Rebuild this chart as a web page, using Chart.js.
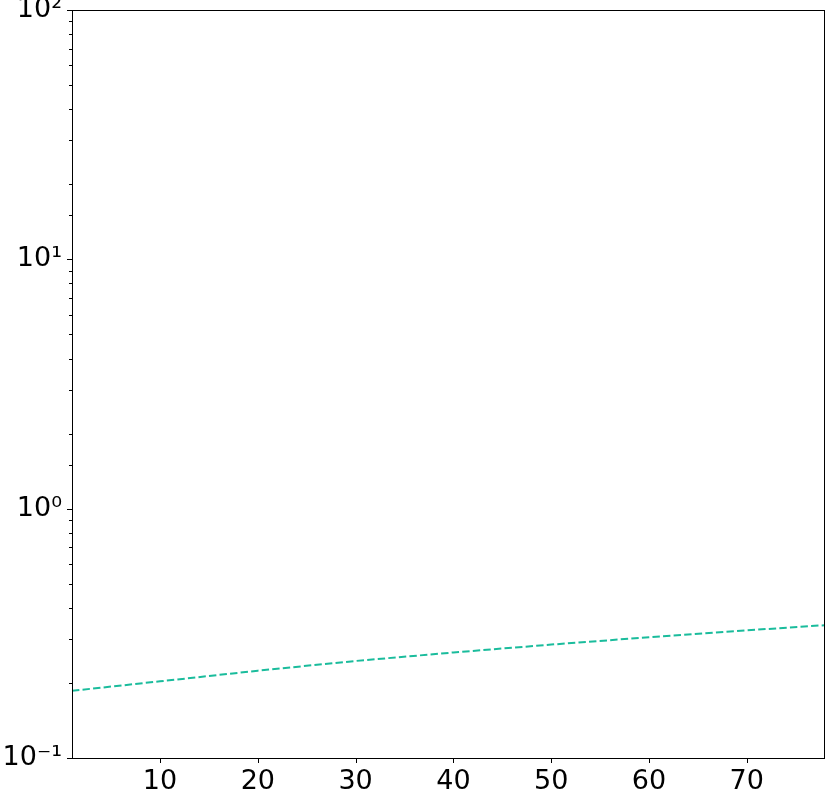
<!DOCTYPE html>
<html>
<head>
<meta charset="utf-8">
<script src="https://cdn.jsdelivr.net/npm/chart.js@4.4.1/dist/chart.umd.min.js"></script>
<style>
html,body{margin:0;padding:0;background:#fff;}
#wrap{width:830px;height:794px;}
</style>
</head>
<body>
<div id="wrap"><canvas id="c" width="830" height="794"></canvas></div>
<script>
// Data
const xValues = [1, 10, 20, 30, 40, 50, 60, 70, 78];
const yValues = [0.186, 0.203, 0.224, 0.245, 0.265, 0.285, 0.305, 0.325, 0.341];
const xTickValues = [10, 20, 30, 40, 50, 60, 70];
const yMajorTicks = [0.1, 1, 10, 100];
const yTickLabels = ['10\u207B\u00B9', '10\u2070', '10\u00B9', '10\u00B2'];

const LINE_COLOR = '#1abc9c';
const FONT = {family: 'DejaVu Sans', size: 27};

const framePlugin = {
  id: 'frame',
  afterDraw(chart) {
    const ctx = chart.ctx;
    const a = chart.chartArea;
    const ys = chart.scales.y;
    const xs = chart.scales.x;
    ctx.save();
    ctx.strokeStyle = '#000';
    ctx.lineWidth = 1;
    // minor & major ticks on y
    ys.ticks.forEach(t => {
      const v = t.value;
      if (v < ys.min - 1e-12 || v > ys.max + 1e-12) return;
      const py = Math.round(ys.getPixelForValue(v)) + 0.5;
      const lg = Math.log10(v);
      const isMajor = Math.abs(lg - Math.round(lg)) < 1e-9;
      const len = isMajor ? 5 : 3;
      ctx.beginPath();
      ctx.moveTo(a.left, py);
      ctx.lineTo(a.left - len, py);
      ctx.stroke();
    });
    // x ticks
    xs.ticks.forEach(t => {
      const px = Math.round(xs.getPixelForValue(t.value)) + 0.5;
      ctx.beginPath();
      ctx.moveTo(px, a.bottom);
      ctx.lineTo(px, a.bottom + 5);
      ctx.stroke();
    });
    // frame
    ctx.strokeRect(Math.round(a.left) + 0.5, Math.round(a.top) + 0.5,
                   Math.round(a.right - a.left) - 1, Math.round(a.bottom - a.top));
    ctx.restore();
  }
};

new Chart(document.getElementById('c'), {
  type: 'line',
  data: {
    datasets: [{
      data: xValues.map((x, i) => ({x: x, y: yValues[i]})),
      borderColor: LINE_COLOR,
      backgroundColor: LINE_COLOR,
      borderWidth: 2,
      borderDash: [7.4, 3.2],
      pointRadius: 0,
      tension: 0,
      fill: false
    }]
  },
  options: {
    responsive: false,
    animation: false,
    devicePixelRatio: 1,
    layout: {padding: {top: 10, right: 5, left: 0, bottom: 0}},
    plugins: {legend: {display: false}, tooltip: {enabled: false}},
    scales: {
      x: {
        type: 'linear',
        min: 1,
        max: 78,
        afterBuildTicks: s => { s.ticks = xTickValues.map(v => ({value: v})); },
        afterFit: s => { s.height = 36; s.paddingLeft = 0; s.paddingRight = 0; },
        grid: {display: false, drawTicks: true, tickLength: 5},
        border: {display: false},
        ticks: {
          color: '#000',
          font: FONT,
          padding: 3,
          maxRotation: 0,
          autoSkip: false,
          callback: v => String(v)
        }
      },
      y: {
        type: 'logarithmic',
        min: 0.1,
        max: 100,
        afterFit: s => { s.width = 72; s.paddingTop = 0; s.paddingBottom = 0; },
        grid: {display: false, drawTicks: true, tickLength: 5},
        border: {display: false},
        ticks: {
          color: '#000',
          font: FONT,
          padding: 5,
          autoSkip: false,
          callback: function(v) {
            const idx = yMajorTicks.findIndex(m => Math.abs(m - v) / m < 1e-9);
            return idx >= 0 ? yTickLabels[idx] : '';
          }
        }
      }
    }
  },
  plugins: [framePlugin]
});
</script>
</body>
</html>
